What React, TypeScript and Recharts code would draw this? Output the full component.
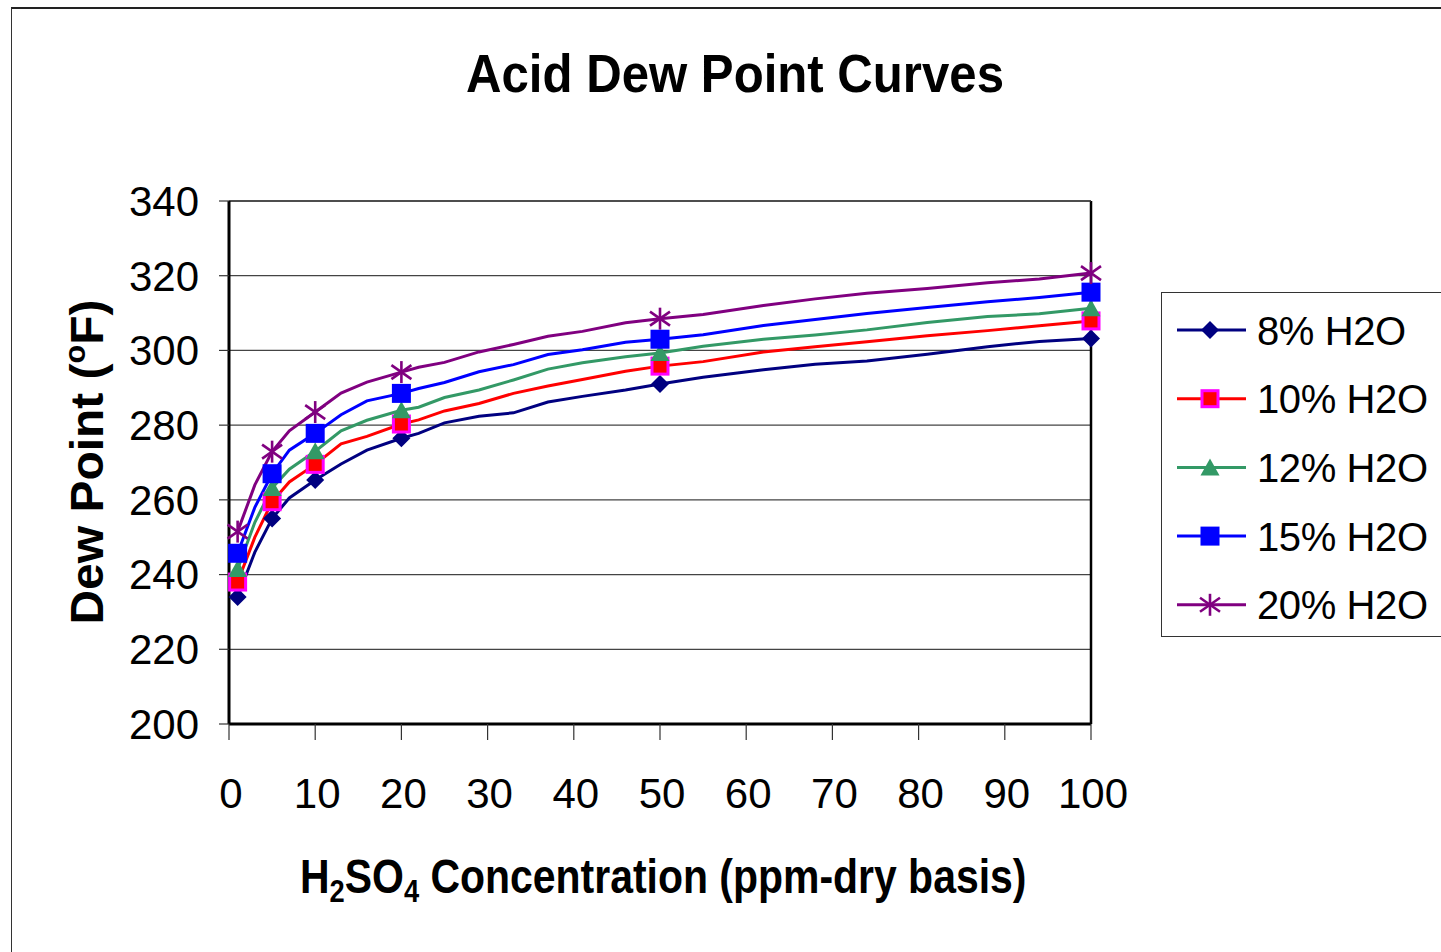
import React from 'react';
import { LineChart, Line, XAxis, YAxis, CartesianGrid, Legend, ReferenceLine, Customized } from 'recharts';

const xValues = [1, 3, 5, 7, 10, 13, 16, 20, 22, 25, 29, 33, 37, 41, 46, 50, 55, 62, 68, 74, 81, 88, 94, 100];
const h2o8 = [234, 246, 255, 260.5, 265.3, 269.6, 273.3, 276.5, 277.8, 280.6, 282.4, 283.3, 286.2, 287.7, 289.4, 291, 292.8, 294.8, 296.3, 297.2, 299, 301, 302.4, 303.2];
const h2o10 = [238, 250, 259.5, 264.8, 269.5, 275, 277, 280.3, 281.4, 283.8, 285.8, 288.5, 290.5, 292.2, 294.4, 295.8, 297, 299.6, 301, 302.3, 303.9, 305.3, 306.6, 307.9];
const h2o12 = [241.5, 254, 263.2, 268.2, 273, 278.5, 281.3, 284, 284.8, 287.4, 289.4, 292.1, 295, 296.7, 298.3, 299.3, 301.1, 303, 304.1, 305.5, 307.5, 309.1, 309.8, 311.3];
const h2o15 = [245.7, 258, 267, 273.3, 277.8, 282.8, 286.5, 288.5, 289.8, 291.4, 294.3, 296.2, 298.9, 300.2, 302.2, 303, 304.2, 306.7, 308.3, 309.9, 311.5, 313, 314.2, 315.6];
const h2o20 = [251.5, 264, 272.9, 278.5, 283.5, 288.6, 291.5, 294.2, 295.5, 296.8, 299.6, 301.6, 303.8, 305.1, 307.4, 308.5, 309.6, 312, 313.8, 315.3, 316.6, 318.1, 319.1, 320.7];

const markerX = [1, 5, 10, 20, 50, 100];
const xTicks = [0, 10, 20, 30, 40, 50, 60, 70, 80, 90, 100];
const yTicks = [200, 220, 240, 260, 280, 300, 320, 340];

const seriesKeys = ['s8', 's10', 's12', 's15', 's20'];
const seriesNames = ['8% H2O', '10% H2O', '12% H2O', '15% H2O', '20% H2O'];
const seriesColors = ['#000080', '#FF0000', '#339966', '#0000FF', '#800080'];
const seriesMarkers = ['diamond', 'squareRed', 'triangle', 'square', 'star'];

const data = xValues.map((x, i) => ({
  x,
  s8: h2o8[i],
  s10: h2o10[i],
  s12: h2o12[i],
  s15: h2o15[i],
  s20: h2o20[i],
}));

const FONT = '"Liberation Sans", Arial, sans-serif';

function Marker({ kind, cx, cy }: { kind: string; cx: number; cy: number }) {
  switch (kind) {
    case 'diamond':
      return <path d={`M${cx},${cy - 9} L${cx + 9},${cy} L${cx},${cy + 9} L${cx - 9},${cy} Z`} fill="#000080" />;
    case 'squareRed':
      return <rect x={cx - 8} y={cy - 8} width={16} height={16} fill="#FF0000" stroke="#FF00FF" strokeWidth={3} />;
    case 'triangle':
      return <path d={`M${cx},${cy - 9} L${cx + 9.5},${cy + 8} L${cx - 9.5},${cy + 8} Z`} fill="#339966" />;
    case 'square':
      return <rect x={cx - 9.5} y={cy - 9.5} width={19} height={19} fill="#0000FF" />;
    case 'star':
      return (
        <g stroke="#800080" strokeWidth={2.6}>
          <line x1={cx} y1={cy - 11} x2={cx} y2={cy + 11} />
          <line x1={cx - 10} y1={cy - 7} x2={cx + 10} y2={cy + 7} />
          <line x1={cx - 10} y1={cy + 7} x2={cx + 10} y2={cy - 7} />
        </g>
      );
    default:
      return null;
  }
}

const makeDot = (kind: string) => (props: any) => {
  const { cx, cy, payload, index } = props;
  if (!payload || !markerX.includes(payload.x) || cx == null || cy == null) {
    return <g key={`e-${kind}-${index}`} />;
  }
  return (
    <g key={`d-${kind}-${index}`}>
      <Marker kind={kind} cx={cx} cy={cy} />
    </g>
  );
};

const LegendBox = () => (
  <div style={{ width: 280, height: 345, borderTop: '1.5px solid #333', borderLeft: '1.5px solid #333', borderBottom: '1.5px solid #333', boxSizing: 'border-box', background: '#fff' }}>
    <svg width={278} height={342}>
      {seriesNames.map((name, i) => {
        const cy = 37 + i * 68.7;
        return (
          <g key={name}>
            <line x1={15} x2={84} y1={cy} y2={cy} stroke={seriesColors[i]} strokeWidth={3} />
            <Marker kind={seriesMarkers[i]} cx={48} cy={cy} />
            <text x={95} y={cy + 14.5} fontSize={40} fontFamily={FONT} fill="#000" letterSpacing={-0.4}>
              {name}
            </text>
          </g>
        );
      })}
    </svg>
  </div>
);

const Titles = () => (
  <g fontFamily={FONT} fill="#000" fontWeight="bold">
    <text x={735} y={92} fontSize={54} textAnchor="middle" textLength={538} lengthAdjust="spacingAndGlyphs">
      Acid Dew Point Curves
    </text>
    <g transform="translate(300,893) scale(0.853,1)">
      <text x={0} y={0} fontSize={48}>
        H<tspan fontSize={32} dy={9}>2</tspan>
        <tspan dy={-9}>SO</tspan>
        <tspan fontSize={32} dy={9}>4</tspan>
        <tspan dy={-9}> Concentration (ppm-dry basis)</tspan>
      </text>
    </g>
    <text transform="translate(103,462) rotate(-90)" x={0} y={0} fontSize={47} textAnchor="middle" textLength={325} lengthAdjust="spacingAndGlyphs">
      Dew Point (<tspan fontSize={30} dy={-18}>o</tspan>
      <tspan dy={18}>F)</tspan>
    </text>
  </g>
);

export default function App() {
  return (
    <div style={{ position: 'absolute', left: 0, top: 0, width: 1441, height: 952, background: '#fff', overflow: 'hidden' }}>
      <div style={{ position: 'absolute', left: 11, top: 7, width: 1430, height: 945, borderTop: '2px solid #222', borderLeft: '1.5px solid #333', boxSizing: 'border-box' }} />
      <div style={{ position: 'absolute', left: 0, top: 0 }}>
        <LineChart width={1441} height={952} data={data} margin={{ top: 201, right: 350, bottom: 128, left: 119 }}>
          <CartesianGrid vertical={false} stroke="#444" strokeWidth={1.2} />
          <XAxis
            dataKey="x"
            type="number"
            domain={[0, 100]}
            ticks={xTicks}
            interval={0}
            height={100}
            tickSize={16}
            tickMargin={38}
            axisLine={{ stroke: '#000', strokeWidth: 3 }}
            tickLine={{ stroke: '#333', strokeWidth: 1.2 }}
            tick={{ fontSize: 42, fill: '#000', fontFamily: FONT, dx: 2 }}
          />
          <YAxis
            type="number"
            domain={[200, 340]}
            ticks={yTicks}
            interval={0}
            width={110}
            tickSize={10}
            tickMargin={20}
            axisLine={{ stroke: '#000', strokeWidth: 3 }}
            tickLine={{ stroke: '#333', strokeWidth: 1.2 }}
            tick={{ fontSize: 42, fill: '#000', fontFamily: FONT }}
          />
          <ReferenceLine x={100} stroke="#000" strokeWidth={2.5} />
          <ReferenceLine y={340} stroke="#333" strokeWidth={1.5} />
          {seriesKeys.map((k, i) => (
            <Line
              key={k}
              type="linear"
              dataKey={k}
              name={seriesNames[i]}
              stroke={seriesColors[i]}
              strokeWidth={3}
              dot={makeDot(seriesMarkers[i])}
              activeDot={false}
              isAnimationActive={false}
            />
          ))}
          <Legend
            layout="vertical"
            align="center"
            verticalAlign="middle"
            wrapperStyle={{ left: 1161, top: 292, width: 280, height: 345 }}
            content={() => <LegendBox />}
          />
          <Customized component={Titles} />
        </LineChart>
      </div>
    </div>
  );
}
